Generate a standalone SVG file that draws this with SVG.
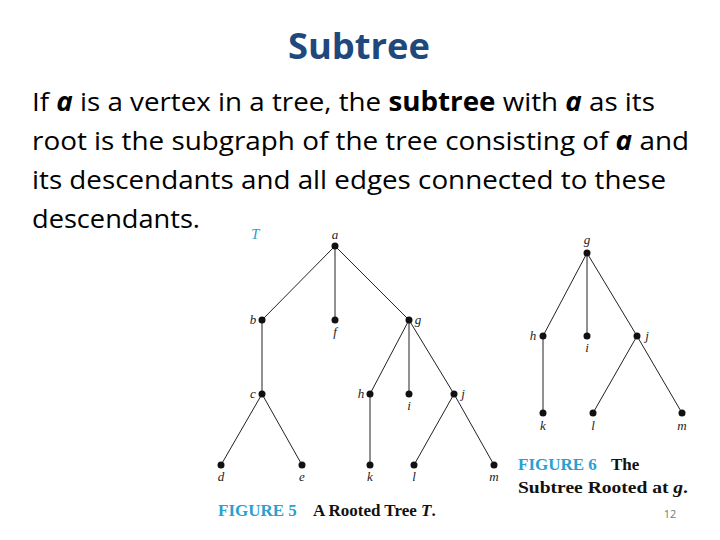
<svg xmlns="http://www.w3.org/2000/svg" width="720" height="540" viewBox="0 0 720 540">
<style>
.t{font-family:"Open Sans","Liberation Sans",sans-serif}
.b{font-family:"Open Sans","Liberation Sans",sans-serif;font-size:26px;fill:#000}
.lb{font-family:"Liberation Serif",serif;font-style:italic;font-size:13px;fill:#222}
.e line{stroke:#222;stroke-width:1}
.n{fill:#111}
.cap{font-family:"Liberation Serif",serif;font-weight:bold;font-size:17px}
</style>
<rect width="720" height="540" fill="#fff"/>
<text x="288" y="59" textLength="142" lengthAdjust="spacingAndGlyphs" class="t" font-weight="bold" font-size="35" fill="#1F497D">Subtree</text>
<text class="b" x="32" y="111" textLength="623" lengthAdjust="spacingAndGlyphs">If <tspan font-weight="bold" font-style="italic">a</tspan> is a vertex in a tree, the <tspan font-weight="bold">subtree</tspan> with <tspan font-weight="bold" font-style="italic">a</tspan> as its</text>
<text class="b" x="32" y="150" textLength="657" lengthAdjust="spacingAndGlyphs">root is the subgraph of the tree consisting of <tspan font-weight="bold" font-style="italic">a</tspan> and</text>
<text class="b" x="32" y="189" textLength="634" lengthAdjust="spacingAndGlyphs">its descendants and all edges connected to these</text>
<text class="b" x="32" y="228" textLength="168" lengthAdjust="spacingAndGlyphs">descendants.</text>
<g class="e" id="connectors">
<line x1="335" y1="246" x2="262" y2="320"/><line x1="335" y1="246" x2="335" y2="320"/><line x1="335" y1="246" x2="409" y2="320"/>
<line x1="262" y1="320" x2="262" y2="394"/><line x1="262" y1="394" x2="221" y2="465"/><line x1="262" y1="394" x2="302" y2="465"/>
<line x1="409" y1="320" x2="370" y2="394"/><line x1="409" y1="320" x2="409" y2="394"/><line x1="409" y1="320" x2="454" y2="394"/>
<line x1="370" y1="394" x2="370" y2="465"/><line x1="454" y1="394" x2="414" y2="465"/><line x1="454" y1="394" x2="494" y2="465"/>
<line x1="587" y1="253" x2="543" y2="336"/><line x1="587" y1="253" x2="587" y2="336"/><line x1="587" y1="253" x2="637" y2="336"/>
<line x1="543" y1="336" x2="543" y2="413"/><line x1="637" y1="336" x2="593" y2="413"/><line x1="637" y1="336" x2="682" y2="413"/>
</g>
<text x="251" y="239" font-family="Liberation Serif,serif" font-style="italic" font-size="15" fill="#2aa0d0">T</text>
<g id="a"><circle class="n" cx="335" cy="246" r="3.5"/><text class="lb" x="335" y="239" text-anchor="middle">a</text></g>
<g id="b"><circle class="n" cx="262" cy="320" r="3.5"/><text class="lb" x="253" y="324" text-anchor="middle">b</text></g>
<g id="f"><circle class="n" cx="335" cy="320" r="3.5"/><text class="lb" x="335" y="336" text-anchor="middle">f</text></g>
<g id="g"><circle class="n" cx="409" cy="320" r="3.5"/><text class="lb" x="418" y="324" text-anchor="middle">g</text></g>
<g id="c"><circle class="n" cx="262" cy="394" r="3.5"/><text class="lb" x="253" y="398" text-anchor="middle">c</text></g>
<g id="h"><circle class="n" cx="370" cy="394" r="3.5"/><text class="lb" x="361" y="398" text-anchor="middle">h</text></g>
<g id="i"><circle class="n" cx="409" cy="394" r="3.5"/><text class="lb" x="409" y="410" text-anchor="middle">i</text></g>
<g id="j"><circle class="n" cx="454" cy="394" r="3.5"/><text class="lb" x="463" y="398" text-anchor="middle">j</text></g>
<g id="d"><circle class="n" cx="221" cy="465" r="3.5"/><text class="lb" x="221" y="481" text-anchor="middle">d</text></g>
<g id="e"><circle class="n" cx="302" cy="465" r="3.5"/><text class="lb" x="302" y="481" text-anchor="middle">e</text></g>
<g id="k"><circle class="n" cx="370" cy="465" r="3.5"/><text class="lb" x="370" y="481" text-anchor="middle">k</text></g>
<g id="l"><circle class="n" cx="414" cy="465" r="3.5"/><text class="lb" x="414" y="481" text-anchor="middle">l</text></g>
<g id="m"><circle class="n" cx="494" cy="465" r="3.5"/><text class="lb" x="494" y="481" text-anchor="middle">m</text></g>
<g id="g2"><circle class="n" cx="587" cy="253" r="3.5"/><text class="lb" x="587" y="244" text-anchor="middle">g</text></g>
<g id="h2"><circle class="n" cx="543" cy="336" r="3.5"/><text class="lb" x="533" y="340" text-anchor="middle">h</text></g>
<g id="i2"><circle class="n" cx="587" cy="336" r="3.5"/><text class="lb" x="587" y="352" text-anchor="middle">i</text></g>
<g id="j2"><circle class="n" cx="637" cy="336" r="3.5"/><text class="lb" x="647" y="340" text-anchor="middle">j</text></g>
<g id="k2"><circle class="n" cx="543" cy="413" r="3.5"/><text class="lb" x="543" y="430" text-anchor="middle">k</text></g>
<g id="l2"><circle class="n" cx="593" cy="413" r="3.5"/><text class="lb" x="593" y="430" text-anchor="middle">l</text></g>
<g id="m2"><circle class="n" cx="682" cy="413" r="3.5"/><text class="lb" x="682" y="430" text-anchor="middle">m</text></g>
<text class="cap" x="218" y="516"><tspan fill="#2aa0d0">FIGURE 5</tspan><tspan fill="#111" dx="16">A Rooted Tree </tspan><tspan fill="#111" font-style="italic">T</tspan><tspan fill="#111">.</tspan></text>
<text class="cap" x="518" y="470"><tspan fill="#2aa0d0">FIGURE 6</tspan><tspan fill="#111" dx="14">The</tspan></text>
<text class="cap" x="518" y="493" fill="#111" textLength="170" lengthAdjust="spacingAndGlyphs">Subtree Rooted at <tspan font-style="italic">g</tspan>.</text>
<text x="670" y="518" text-anchor="middle" font-family="Open Sans,sans-serif" font-size="11" fill="#777">12</text>
</svg>
